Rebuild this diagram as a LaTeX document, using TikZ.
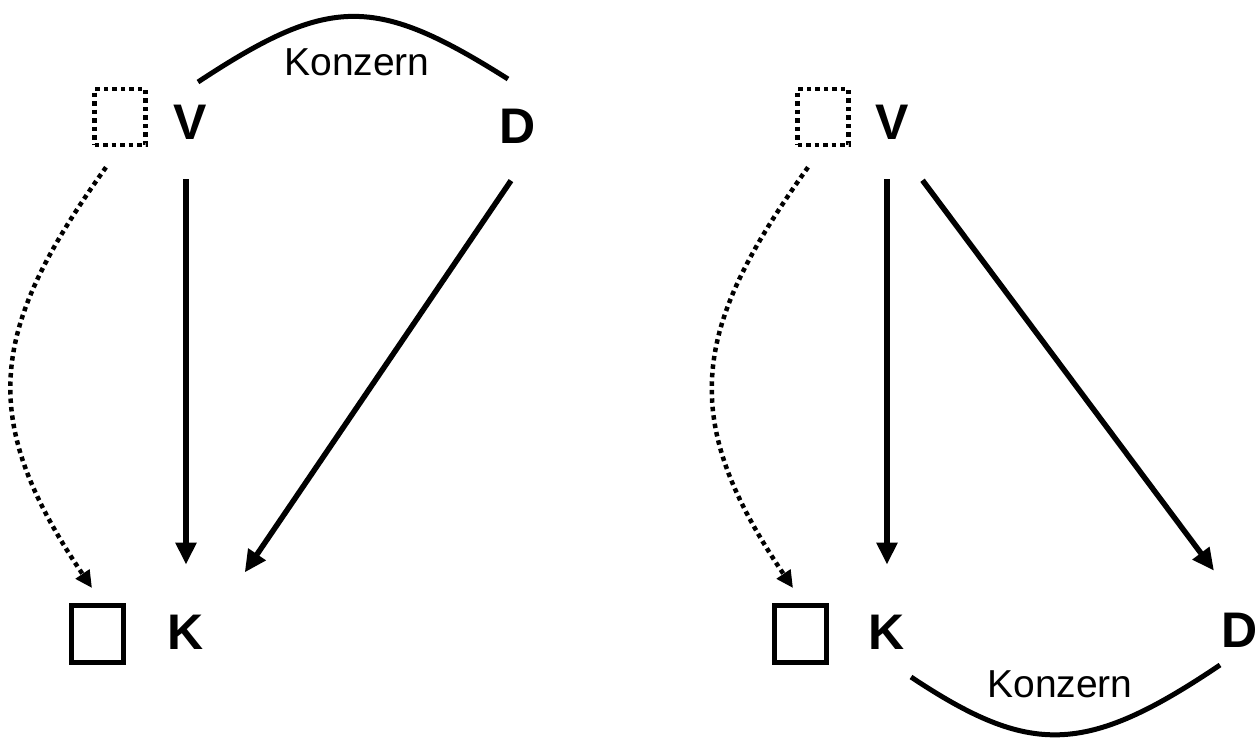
\documentclass[tikz,border=0pt]{standalone}
\usepackage{fontspec}
\setmainfont{Liberation Sans}
\usetikzlibrary{arrows.meta}

\begin{document}
\begin{tikzpicture}[x=1pt, y=-1pt,
    letter/.style={inner sep=0pt, font=\fontsize{50}{54}\selectfont\bfseries},
    lbl/.style={inner sep=0pt, font=\fontsize{39}{42}\selectfont},
    solidbox/.style={draw, line width=5pt, minimum width=52, minimum height=57},
    dotbox/.style={draw, line width=4.5pt, dash pattern=on 4.5pt off 4pt, minimum width=51, minimum height=56},
    arr/.style={line width=5.5pt, -{Triangle[length=22pt, width=20pt]}},
    dotarr/.style={line width=4.5pt, dash pattern=on 4.5pt off 4pt, -{Triangle[length=17pt, width=16pt]}},
    link/.style={line width=5pt}]
  \useasboundingbox (0,0) rectangle (1260,737);

  % left: Konzern between V and D
  \node[dotbox] (vbox1) at (120,117) {};
  \node[letter] (v1) at (190,122) {V};
  \node[letter] (d1) at (518,126) {D};
  \node[solidbox] (kbox1) at (97,634) {};
  \node[letter] (k1) at (186,632) {K};
  \node[lbl] (kz1) at (357,62) {Konzern};

  \draw[link] ([shift={(8,-40)}]v1.center) .. controls (330,-5) and (375,-5) .. ([shift={(-10,-47)}]d1.center);
  \draw[arr, shorten <=40pt, shorten >=50pt] (v1.south -| k1) -- (k1.north);
  \draw[arr, shorten <=45pt, shorten >=72pt] (d1.south east) -- (k1.east);
  \draw[dotarr] ([shift={(-14,20)}]vbox1.south) .. controls +(-116,162) and +(-116,-171) .. ([shift={(-5,-15)}]kbox1.north);

  % right: Konzern between K and D
  \node[dotbox] (vbox2) at (823,117) {};
  \node[letter] (v2) at (892,122) {V};
  \node[solidbox] (kbox2) at (800,634) {};
  \node[letter] (k2) at (887,632) {K};
  \node[letter] (d2) at (1240,630) {D};
  \node[lbl] (kz2) at (1060,684) {Konzern};

  \draw[link] ([shift={(24,45)}]k2.center) .. controls (1030,756) and (1085,756) .. ([shift={(-20,35)}]d2.center);
  \draw[arr, shorten <=40pt, shorten >=50pt] (v2.south -| k2) -- (k2.north);
  \draw[arr, shorten <=51pt, shorten >=74pt] (v2.south) -- (d2.east);
  \draw[dotarr] ([shift={(-15,20)}]vbox2.south) .. controls +(-116,162) and +(-116,-171) .. ([shift={(-7,-15)}]kbox2.north);
\end{tikzpicture}
\end{document}
